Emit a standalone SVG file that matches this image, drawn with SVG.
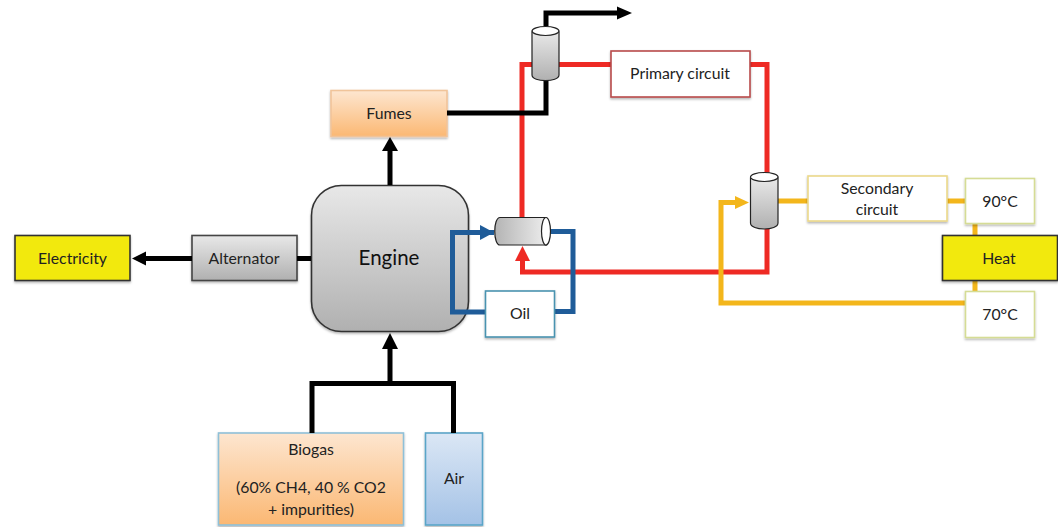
<svg xmlns="http://www.w3.org/2000/svg" width="1058" height="527" viewBox="0 0 1058 527">
<defs>
<linearGradient id="grey" x1="0" y1="0" x2="0" y2="1"><stop offset="0" stop-color="#e8e8e8"/><stop offset="1" stop-color="#b0b0b0"/></linearGradient>
<linearGradient id="greyh" x1="0" y1="0" x2="1" y2="0"><stop offset="0" stop-color="#b4b4b4"/><stop offset="1" stop-color="#ececec"/></linearGradient>
<linearGradient id="orange" x1="0" y1="0" x2="0" y2="1"><stop offset="0" stop-color="#fde6d0"/><stop offset="1" stop-color="#fbb873"/></linearGradient>
<linearGradient id="blue" x1="0" y1="0" x2="0" y2="1"><stop offset="0" stop-color="#dbe7f5"/><stop offset="1" stop-color="#a4c2e6"/></linearGradient>
<filter id="sh" x="-10%" y="-10%" width="120%" height="125%"><feDropShadow dx="0" dy="1.5" stdDeviation="1" flood-color="#000" flood-opacity="0.3"/></filter>
</defs>
<style>
text{font-family:Lato,"Liberation Sans",sans-serif;font-size:15.8px;fill:#222;text-anchor:middle}
.box{filter:url(#sh);stroke-width:1.6}
.conn{fill:none;stroke-width:5;stroke-linejoin:miter}
.k{stroke:#000}.r{stroke:#ee2a24}.b{stroke:#1f5c99}.y{stroke:#f3b61b}
.cyl{stroke:#222;stroke-width:1.2}
</style>
<rect width="1058" height="527" fill="#fff"/>
<g id="electricity"><rect class="box" x="15" y="235.500" width="115" height="45" fill="#f2e90c" stroke="#333"/><text x="72.500" y="264">Electricity</text></g>
<g id="alternator"><rect class="box" x="192" y="235.500" width="105" height="45" fill="url(#grey)" stroke="#444"/><text x="244" y="264">Alternator</text></g>
<g id="engine"><rect class="box" x="311.500" y="185.500" width="157" height="146" rx="30" fill="url(#grey)" stroke="#333"/><text x="389" y="265" style="font-size:20.500px;fill:#111">Engine</text></g>
<g id="fumes"><rect class="box" x="331" y="90.500" width="116" height="46" fill="url(#orange)" stroke="#f0c49a"/><text x="389" y="119">Fumes</text></g>
<g id="biogas"><rect class="box" x="218.500" y="433" width="185" height="92" fill="url(#orange)" stroke="#8fc0d8"/><text x="311" y="455">Biogas</text><text x="311" y="493">(60% CH4, 40 % CO2</text><text x="311" y="515">+ impurities)</text></g>
<g id="air"><rect class="box" x="425.500" y="433" width="57" height="92" fill="url(#blue)" stroke="#5aa5c8"/><text x="454" y="484">Air</text></g>
<g id="connectors">
<path class="conn r" d="M522 218V64.500H611M750 64.500H767V173M767 229V272H522.500V258"/>
<path class="conn k" d="M447 113H546V81M546 26V13H618"/>
<path class="conn k" d="M192 258.500H145M297 258.500H311M390 185V150M312 433V383.500H453.500V433M390 383.500V347"/>
<path class="conn b" d="M494 232.500H452.500V312H485M555 311.500H573V231.500H549"/>
<path class="conn y" d="M778 201H808M947 201H965M975 224V235M975 281V291M965 303H721V202.500H738"/>
<path d="M632 13L617 6.500V19.500Z"/>
<path d="M132 258.500L146 251.500V265.500Z"/>
<path d="M390 137L382 151H398Z"/>
<path d="M390 333L382 349H398Z"/>
<path d="M494 232.500L480 225V240Z" fill="#1f5c99"/>
<path d="M522.500 246L515 261H530Z" fill="#ee2a24"/>
<path d="M749 202.500L735 196V209Z" fill="#f3b61b"/>
</g>
<g id="oil"><rect class="box" x="485.500" y="291" width="69" height="46" fill="#fff" stroke="#4a93b0"/><text x="520" y="319">Oil</text></g>
<g id="primary-circuit"><rect class="box" x="611" y="51" width="139" height="46" fill="#fff" stroke="#b84a4a"/><text x="680" y="79">Primary circuit</text></g>
<g id="secondary-circuit"><rect class="box" x="808" y="176" width="139" height="45" fill="#fff" stroke="#ecd98a"/><text x="877" y="194">Secondary</text><text x="877" y="215">circuit</text></g>
<g id="t90"><rect class="box" x="965.500" y="178.500" width="69" height="45" fill="#fff" stroke="#d5dc95"/><text x="1000" y="207">90°C</text></g>
<g id="heat"><rect class="box" x="942.500" y="235.500" width="115" height="45" fill="#f2e90c" stroke="#333"/><text x="999" y="264">Heat</text></g>
<g id="t70"><rect class="box" x="965.500" y="291.500" width="69" height="46" fill="#fff" stroke="#d5dc95"/><text x="1000" y="320">70°C</text></g>
<g id="exchanger-top">
<path class="cyl" d="M532 32V75C532 82.500 559 82.500 559 75V32Z" fill="url(#grey)"/>
<ellipse class="cyl" cx="545.500" cy="31" rx="13.500" ry="4.500" fill="#fff"/>
</g>
<g id="exchanger-right">
<path class="cyl" d="M750.500 178V223C750.500 231 778 231 778 223V178Z" fill="url(#grey)"/>
<ellipse class="cyl" cx="764.300" cy="177" rx="13.800" ry="4.500" fill="#fff"/>
</g>
<g id="exchanger-oil">
<path class="cyl" d="M500 217.500H546V245H500C493 245 493 217.500 500 217.500Z" fill="url(#greyh)"/>
<ellipse class="cyl" cx="546" cy="231.300" rx="4.500" ry="13.800" fill="#fff"/>
</g>
</svg>
